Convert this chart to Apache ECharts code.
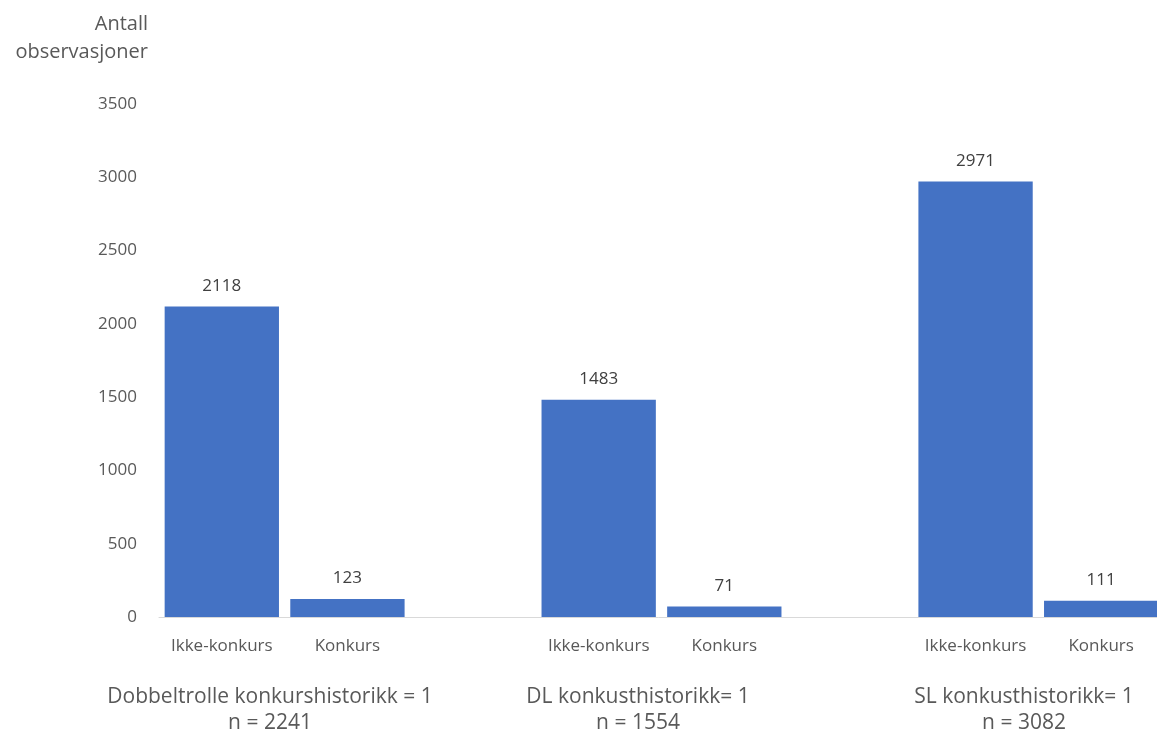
<!DOCTYPE html>
<html>
<head>
<meta charset="utf-8">
<script src="https://cdn.jsdelivr.net/npm/echarts@6/dist/echarts.min.js"></script>
<style>html,body{margin:0;padding:0;background:#fff;overflow:hidden;}#c{width:1157px;height:736px;}</style>
</head>
<body>
<div id="c"></div>
<script>
const categories = ['Ikke-konkurs','Konkurs','','Ikke-konkurs','Konkurs','','Ikke-konkurs','Konkurs'];
const values = [2118, 123, null, 1483, 71, null, 2971, 111];
const groupTitles = ['Dobbeltrolle konkurshistorikk = 1','DL konkusthistorikk= 1','SL konkusthistorikk= 1'];
const groupN = ['n = 2241','n = 1554','n = 3082'];
const yTicks = {min: 0, max: 3500, interval: 500};
const yTitle = ['Antall','observasjoner'];

const FONT = '"Open Sans", "Noto Sans", sans-serif';
const chart = echarts.init(document.getElementById('c'));
const groupCenters = [270, 638, 1024];
const graphics = [{
  type: 'text', x: 148, y: 10,
  style: {text: yTitle.join('\n'), font: '20px ' + FONT, fill: '#595959', align: 'right', lineHeight: 28}
}];
groupTitles.forEach((t, i) => {
  graphics.push({type: 'text', x: groupCenters[i], y: 697,
    style: {text: t, font: '21px ' + FONT, fill: '#595959', align: 'center', verticalAlign: 'middle'}});
  graphics.push({type: 'text', x: groupCenters[i], y: 723,
    style: {text: groupN[i], font: '21px ' + FONT, fill: '#595959', align: 'center', verticalAlign: 'middle'}});
});
chart.setOption({
  animation: false,
  grid: {left: 159, width: 1005, top: 104, bottom: 119, containLabel: false, outerBoundsMode: 'none'},
  xAxis: {
    type: 'category', data: categories,
    axisLine: {lineStyle: {color: '#d9d9d9', width: 1}},
    axisTick: {show: false},
    axisLabel: {color: '#595959', fontSize: 17, fontFamily: FONT, margin: 21, interval: 0}
  },
  yAxis: {
    type: 'value', min: yTicks.min, max: yTicks.max, interval: yTicks.interval,
    axisLine: {show: false}, axisTick: {show: false}, splitLine: {show: false},
    axisLabel: {color: '#595959', fontSize: 17, fontFamily: FONT, margin: 22, formatter: v => String(v)}
  },
  series: [{
    type: 'bar', data: values, barCategoryGap: '9%',
    itemStyle: {color: '#4472C4'},
    label: {show: true, position: 'top', distance: 12, color: '#404040', fontSize: 17, fontFamily: FONT}
  }],
  graphic: graphics
});
</script>
</body>
</html>
